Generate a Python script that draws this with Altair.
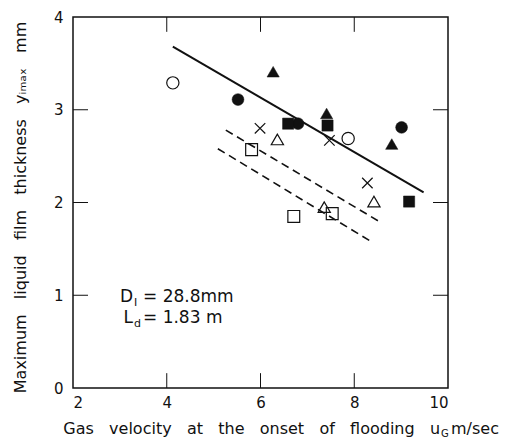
import altair as alt
import pandas as pd

# ---- data ----
open_circle_x = [4.13, 7.87]
open_circle_y = [3.29, 2.69]
filled_circle_x = [5.52, 6.80, 9.01]
filled_circle_y = [3.11, 2.85, 2.81]
filled_triangle_x = [6.27, 7.41, 8.80]
filled_triangle_y = [3.41, 2.96, 2.63]
filled_square_x = [6.59, 7.43, 9.17]
filled_square_y = [2.85, 2.83, 2.01]
cross_x = [5.99, 7.47, 8.28]
cross_y = [2.80, 2.67, 2.21]
open_triangle_x = [6.36, 8.42, 7.36]
open_triangle_y = [2.68, 2.01, 1.95]
open_square_x = [5.81, 7.53, 6.71]
open_square_y = [2.57, 1.88, 1.85]

solid_x = [4.13, 9.48]
solid_y = [3.68, 2.11]
dash_upper_x = [5.26, 8.55]
dash_upper_y = [2.78, 1.79]
dash_lower_x = [5.09, 8.39]
dash_lower_y = [2.58, 1.57]

x_ticks = [2, 4, 6, 8, 10]
y_ticks = [0, 1, 2, 3, 4]
x_inner_ticks = [4, 6, 8]
y_inner_ticks = [1, 2, 3]

ann_x = [3.28, 3.28]
ann_y = [0.98, 0.76]
ann_main = ["D", "L"]
ann_sub = ["I", "d"]
ann_rest = ["= 28.8mm", "= 1.83 m"]

GAP = " \u00a0\u00a0"
xtitle_main = GAP.join(["Gas", "velocity", "at", "the", "onset", "of", "flooding", "u"])
xtitle_sub = "G"
xtitle_rest = "m/sec"
xtitle_x = [9.83]
xtitle_y = [-0.44]

ytitle = GAP.join(["Maximum", "liquid", "film", "thickness", "y\u1d62\u2098\u2090\u2093", "mm"])

FONT = "DejaVu Sans"
INK = "#111111"

xs = alt.Scale(domain=[2, 10], nice=False, zero=False)
ys = alt.Scale(domain=[0, 4], nice=False)

X = alt.X("x:Q", scale=xs, axis=alt.Axis(values=x_ticks, title=None, ticks=False, domain=False,
                                           grid=False, labelFont=FONT, labelFontSize=15,
                                           labelColor=INK, labelPadding=7))
Y = alt.Y("y:Q", scale=ys, axis=alt.Axis(values=y_ticks, title=ytitle, ticks=False, domain=False,
                                           grid=False, labelFont=FONT, labelFontSize=15,
                                           labelColor=INK, labelPadding=10,
                                           titleFont=FONT, titleFontSize=16, titleFontWeight="normal",
                                           titleColor=INK, titleX=-53, titleY=190,
                                           titleBaseline="middle", titleAlign="center"))


def pts(xv, yv):
    return pd.DataFrame({"x": xv, "y": yv})


def marker(xv, yv, shape, filled, size):
    if filled:
        m = alt.Chart(pts(xv, yv)).mark_point(shape=shape, filled=True, fill=INK, stroke=INK,
                                              strokeWidth=0.5, size=size, opacity=1)
    else:
        m = alt.Chart(pts(xv, yv)).mark_point(shape=shape, filled=False, stroke=INK,
                                              strokeWidth=1.2, size=size, opacity=1)
    return m.encode(x=X, y=Y)


X_PATH = "M -1 -1 L 1 1 M -1 1 L 1 -1"

layers = []
# fitted lines
layers.append(alt.Chart(pts(solid_x, solid_y)).mark_line(color=INK, strokeWidth=2).encode(x=X, y=Y))
layers.append(alt.Chart(pts(dash_upper_x, dash_upper_y)).mark_line(color=INK, strokeWidth=1.6,
                                                                    strokeDash=[8, 5]).encode(x=X, y=Y))
layers.append(alt.Chart(pts(dash_lower_x, dash_lower_y)).mark_line(color=INK, strokeWidth=1.6,
                                                                    strokeDash=[8, 5]).encode(x=X, y=Y))
# markers
layers.append(marker(open_circle_x, open_circle_y, "circle", False, 150))
layers.append(marker(filled_circle_x, filled_circle_y, "circle", True, 140))
layers.append(marker(filled_triangle_x, filled_triangle_y, "triangle-up", True, 150))
layers.append(marker(filled_square_x, filled_square_y, "square", True, 125))
layers.append(marker(cross_x, cross_y, X_PATH, False, 110))
layers.append(marker(open_triangle_x, open_triangle_y, "triangle-up", False, 150))
layers.append(marker(open_square_x, open_square_y, "square", False, 140))

# inward ticks on all four sides
tick_len_x = 0.32
tick_len_y = 0.16
bt = pd.DataFrame({"x": x_inner_ticks, "y": [0] * 3, "y2": [tick_len_y] * 3})
tt = pd.DataFrame({"x": x_inner_ticks, "y": [4] * 3, "y2": [4 - tick_len_y] * 3})
lt = pd.DataFrame({"y": y_inner_ticks, "x": [2] * 3, "x2": [2 + tick_len_x] * 3})
rt = pd.DataFrame({"y": y_inner_ticks, "x": [10] * 3, "x2": [10 - tick_len_x] * 3})
for d in (bt, tt):
    layers.append(alt.Chart(d).mark_rule(color=INK, strokeWidth=1).encode(x=X, y=Y, y2="y2:Q"))
for d in (lt, rt):
    layers.append(alt.Chart(d).mark_rule(color=INK, strokeWidth=1).encode(x=X, y=Y, x2="x2:Q"))

# annotation D_I, L_d
ann = pd.DataFrame({"x": ann_x, "y": ann_y, "main": ann_main, "sub": ann_sub, "rest": ann_rest})
layers.append(alt.Chart(ann).mark_text(font=FONT, fontSize=17, align="right", baseline="middle",
                                       color=INK).encode(x=X, y=Y, text="main:N"))
layers.append(alt.Chart(ann).mark_text(font=FONT, fontSize=11, align="left", baseline="middle",
                                       dx=1, dy=6, color=INK).encode(x=X, y=Y, text="sub:N"))
layers.append(alt.Chart(ann).mark_text(font=FONT, fontSize=17, align="left", baseline="middle",
                                       dx=10, color=INK).encode(x=X, y=Y, text="rest:N"))

# x-axis title with subscript
xt = pd.DataFrame({"x": xtitle_x, "y": xtitle_y, "main": [xtitle_main], "sub": [xtitle_sub],
                   "rest": [xtitle_rest]})
layers.append(alt.Chart(xt).mark_text(font=FONT, fontSize=16, align="right", baseline="middle",
                                      color=INK).encode(x=X, y=Y, text="main:N"))
layers.append(alt.Chart(xt).mark_text(font=FONT, fontSize=10, align="left", baseline="middle",
                                      dx=1, dy=5, color=INK).encode(x=X, y=Y, text="sub:N"))
layers.append(alt.Chart(xt).mark_text(font=FONT, fontSize=16, align="left", baseline="middle",
                                      dx=11, color=INK).encode(x=X, y=Y, text="rest:N"))

chart = alt.layer(*layers).properties(
    width=375, height=371,
    autosize=alt.AutoSizeParams(type="none"),
    padding={"left": 73, "top": 17, "right": 59, "bottom": 55},
    background="white",
).configure_view(stroke=INK, strokeWidth=1.5)

chart.save("out.html", embed_options={"renderer": "svg", "actions": False})
